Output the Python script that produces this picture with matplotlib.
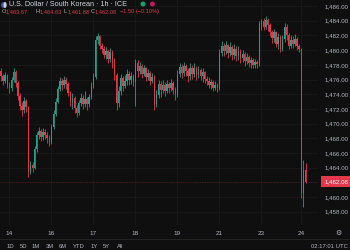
import matplotlib
matplotlib.use("Agg")
import matplotlib.pyplot as plt
import matplotlib.transforms as mtrans
from matplotlib.patches import Ellipse
from matplotlib.lines import Line2D

# ---------------- data ----------------
first_open = 1477.2
closes = [
    1476.5, 1475.8, 1476.6, 1475.2, 1474.8, 1475.9, 1477.0, 1475.5, 1473.8, 1472.4,
    1471.8, 1473.1, 1472.2, 1463.6, 1464.3, 1464.0, 1466.5, 1468.4, 1469.0, 1468.2,
    1468.9, 1468.5, 1468.0, 1467.5, 1469.5, 1471.3, 1473.0, 1474.7, 1475.8, 1475.2,
    1476.0, 1475.4, 1474.2, 1473.0, 1473.5, 1472.1, 1471.5, 1472.8, 1473.5, 1472.6,
    1473.3, 1472.7, 1473.6, 1475.1, 1476.4, 1481.4, 1481.9, 1480.6, 1480.2, 1479.4,
    1479.9, 1478.8, 1479.8, 1478.2, 1476.6, 1472.8, 1474.5, 1476.2, 1475.1, 1475.8,
    1476.7, 1475.9, 1476.5, 1475.6, 1478.3, 1477.2, 1477.9, 1476.8, 1477.5, 1476.4,
    1476.9, 1475.8, 1476.3, 1472.6, 1473.9, 1475.4, 1474.6, 1475.3, 1474.5, 1475.4,
    1474.8, 1475.5, 1474.6, 1473.9, 1476.8, 1477.7, 1476.9, 1477.8, 1477.1, 1476.5,
    1477.6, 1476.8, 1477.5, 1476.6, 1477.3, 1476.5, 1477.0, 1476.1, 1475.8, 1475.2,
    1475.6, 1474.9, 1475.3, 1474.8, 1479.6, 1480.6, 1479.9, 1480.7, 1479.6, 1480.4,
    1479.3, 1480.2, 1479.2, 1479.9, 1478.9, 1479.5, 1478.5, 1479.1, 1478.2, 1478.6,
    1478.0, 1478.4, 1478.1, 1483.6, 1483.9, 1483.2, 1484.1, 1483.4, 1482.5, 1481.6,
    1482.4, 1480.9, 1481.8, 1480.2, 1481.5, 1483.2, 1482.0, 1480.6, 1481.4, 1480.8,
    1481.5, 1480.6, 1480.1, 1460.6, 1463.67, 1462.08,
]
highs = [
    1477.5, 1476.8, 1477.0, 1476.8, 1475.6, 1476.3, 1477.6, 1477.3, 1475.8, 1474.1,
    1472.9, 1473.6, 1473.4, 1472.4, 1464.9, 1464.8, 1467.0, 1468.9, 1469.6, 1469.3,
    1469.4, 1469.2, 1468.8, 1468.4, 1469.9, 1471.8, 1473.5, 1475.1, 1476.4, 1476.2,
    1476.5, 1476.3, 1475.6, 1474.5, 1474.2, 1473.8, 1472.5, 1473.2, 1474.2, 1473.9,
    1474.4, 1473.6, 1474.0, 1475.6, 1476.9, 1481.9, 1482.3, 1482.0, 1481.0, 1480.5,
    1480.4, 1480.1, 1480.3, 1480.0, 1478.9, 1476.9, 1475.1, 1476.7, 1476.5, 1476.6,
    1477.4, 1477.1, 1477.0, 1476.8, 1478.8, 1478.6, 1478.4, 1478.1, 1478.0, 1477.7,
    1477.4, 1477.2, 1476.9, 1476.6, 1474.6, 1475.9, 1475.8, 1475.9, 1475.6, 1476.0,
    1475.7, 1476.1, 1475.8, 1475.0, 1477.3, 1478.3, 1478.1, 1478.4, 1478.1, 1477.6,
    1478.2, 1478.0, 1478.3, 1477.9, 1477.8, 1477.6, 1477.5, 1477.2, 1476.5, 1476.3,
    1476.1, 1475.9, 1475.8, 1475.5, 1480.1, 1481.2, 1481.0, 1481.3, 1480.9, 1481.1,
    1480.7, 1480.9, 1480.5, 1480.6, 1480.2, 1480.0, 1479.8, 1479.6, 1479.4, 1479.1,
    1478.9, 1478.8, 1478.7, 1484.0, 1484.3, 1484.4, 1484.6, 1484.4, 1483.7, 1482.8,
    1482.9, 1482.6, 1482.3, 1482.0, 1482.0, 1483.7, 1483.5, 1482.3, 1482.0, 1481.9,
    1482.2, 1481.8, 1480.9, 1480.3, 1465.1, 1464.63,
]
lows = [
    1475.8, 1475.3, 1475.5, 1474.8, 1474.2, 1474.5, 1475.6, 1475.0, 1473.2, 1471.9,
    1471.0, 1471.5, 1471.6, 1462.7, 1463.1, 1463.4, 1463.8, 1466.2, 1467.9, 1467.6,
    1467.8, 1467.9, 1467.4, 1467.0, 1467.2, 1469.2, 1471.0, 1472.8, 1474.4, 1474.6,
    1474.8, 1474.7, 1473.7, 1472.4, 1472.0, 1471.4, 1470.9, 1471.2, 1472.4, 1472.0,
    1472.3, 1471.9, 1472.3, 1473.3, 1474.8, 1476.1, 1480.8, 1480.1, 1479.6, 1478.9,
    1478.8, 1478.2, 1478.4, 1477.6, 1475.9, 1471.8, 1472.3, 1473.9, 1474.4, 1474.8,
    1475.3, 1475.2, 1475.4, 1475.1, 1472.4, 1476.4, 1476.8, 1476.2, 1476.5, 1475.8,
    1475.9, 1475.3, 1475.5, 1471.9, 1472.2, 1473.5, 1473.6, 1474.2, 1473.8, 1474.1,
    1474.2, 1474.4, 1474.0, 1473.2, 1473.6, 1476.4, 1476.2, 1476.5, 1476.5, 1475.6,
    1476.0, 1476.1, 1476.4, 1476.0, 1476.2, 1475.9, 1475.7, 1475.5, 1475.2, 1474.8,
    1474.7, 1474.5, 1474.6, 1474.3, 1474.6, 1479.2, 1479.2, 1479.5, 1478.9, 1479.2,
    1478.6, 1478.8, 1478.5, 1478.7, 1478.3, 1478.4, 1477.9, 1478.1, 1477.7, 1477.6,
    1477.5, 1477.6, 1477.6, 1477.9, 1482.8, 1482.7, 1482.9, 1482.6, 1481.9, 1481.0,
    1481.1, 1480.4, 1480.2, 1479.7, 1479.9, 1481.1, 1481.4, 1480.1, 1480.3, 1480.3,
    1480.5, 1480.0, 1479.7, 1459.9, 1458.6, 1461.88,
]
day_labels = ["14", "16", "17", "18", "19", "21", "23", "24"]
day_pos = [4, 24, 44, 64, 84, 104, 124, 143]
price_ticks = [1458, 1460, 1464, 1466, 1468, 1470, 1472, 1474, 1476,
               1478, 1480, 1482, 1484, 1486]
last_price = 1462.08
header_title = "U.S. Dollar / South Korean \u00b7 1h \u00b7 ICE"
ohlc_keys = ["O", "H", "L", "C"]
ohlc_vals = ["1,463.67", "1,464.63", "1,461.88", "1,462.08"]
change_text = "\u22121.50 (\u22120.10%)"
ranges = ["1D", "5D", "1M", "3M", "6M", "YTD", "1Y", "5Y", "All"]
clock_text = "02:17:01 UTC"

# ---------------- style ----------------
plt.rcParams["font.family"] = ["Liberation Sans", "DejaVu Sans"]
BG = "#0f0f0f"
UP = "#2a9d8a"
DOWN = "#e2384a"
GRID = "#1b1b1b"
TXT = "#b2b5be"
W, H = 350, 250
AX_RIGHT = 318

def fx(px):
    return px / W

def fy(py):
    return 1 - py / H

fig = plt.figure(figsize=(3.5, 2.5), dpi=100, facecolor=BG)
ax = fig.add_axes([0, 25 / H, AX_RIGHT / W, 225 / H], facecolor=BG)
ax.set_axisbelow(True)

opens = [first_open] + closes[:-1]
idx = list(range(len(closes)))
cols = [UP if c >= o else DOWN for o, c in zip(opens, closes)]
bottoms = [min(o, c) for o, c in zip(opens, closes)]
heights = [max(abs(c - o), 0.1) for o, c in zip(opens, closes)]

ax.vlines(idx, lows, highs, colors=cols, linewidth=0.6, zorder=5)
ax.bar(idx, heights, bottom=bottoms, width=0.7, color=cols, linewidth=0, zorder=6)

ax.set_xlim(-0.48, -0.48 + AX_RIGHT / 2.1)
ax.set_ylim(1456.2, 1486.82)

ax.set_xticks(day_pos)
ax.set_xticklabels(day_labels)
ax.set_yticks(price_ticks)
ax.set_yticklabels([f"{v:,.2f}" for v in price_ticks])
ax.yaxis.tick_right()
ax.tick_params(axis="x", length=0, labelsize=4.6, labelcolor=TXT, pad=4.5)
ax.tick_params(axis="y", length=0, labelsize=4.4, labelcolor=TXT, pad=4.5)
ax.grid(True, color=GRID, linewidth=0.5)
for s in ax.spines.values():
    s.set_visible(False)

ax.axhline(last_price, color=DOWN, lw=0.5, ls=(0, (1, 1.5)), alpha=0.55, zorder=2)
trans = mtrans.blended_transform_factory(ax.transAxes, ax.transData)
ax.text(1.0 + 6.5 / AX_RIGHT, last_price, f"{last_price:,.2f}", transform=trans,
        ha="left", va="center", fontsize=4.4, color="white", clip_on=False,
        zorder=10, bbox=dict(boxstyle="square,pad=0.5", fc=DOWN, ec="none"))

# header
fig.add_artist(Ellipse((fx(4), fy(5)), 6 / W, 6 / H, fc="#3c5aa6", ec="none"))
fig.add_artist(Ellipse((fx(5), fy(5)), 3 / W, 6 / H, fc="#d0d0d0", ec="none"))
fig.text(fx(9), fy(4.5), header_title, fontsize=5.2, color="#d1d4dc",
         va="center", ha="left")
fig.add_artist(Ellipse((fx(143), fy(4)), 5 / W, 5 / H, fc="#1f9d6e", ec="none"))
fig.add_artist(Ellipse((fx(152.5), fy(4)), 5 / W, 5 / H, fc="#c2185b", ec="none"))

key_x = [2, 36, 64, 91]
for k, v, x0 in zip(ohlc_keys, ohlc_vals, key_x):
    fig.text(fx(x0), fy(11.5), k, fontsize=4.1, color=TXT, va="center", ha="left")
    fig.text(fx(x0 + 3.6), fy(11.5), v, fontsize=4.1, color=DOWN, va="center", ha="left")
fig.text(fx(120), fy(11.5), change_text, fontsize=4.1, color=DOWN, va="center", ha="left")

# x-axis settings icon
fig.text(fx(338), fy(233), "\u2699", fontsize=5, color=TXT, va="center", ha="center",
         family="DejaVu Sans")

# bottom toolbar
fig.add_artist(Line2D([0, 1], [fy(239), fy(239)], color="#262626", lw=0.6))
range_x = [7, 20, 32, 46, 59, 73, 91, 103, 117]
for r, x0 in zip(ranges, range_x):
    fig.text(fx(x0), fy(246.5), r, fontsize=4.2, color=TXT, va="center", ha="left")
fig.text(fx(348), fy(246.5), clock_text, fontsize=4.2, color=TXT, va="center", ha="right")

fig.savefig("out.png", dpi=100, facecolor=BG)
